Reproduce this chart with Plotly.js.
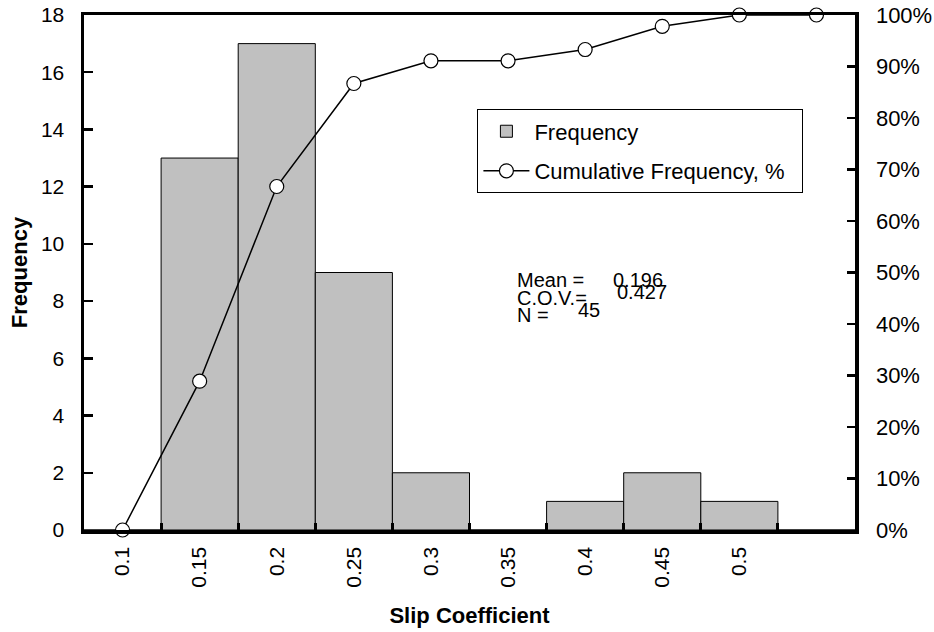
<!DOCTYPE html>
<html>
<head>
<meta charset="utf-8">
<script src="https://cdn.plot.ly/plotly-3.0.1.min.js"></script>
<style>html,body{margin:0;padding:0;background:#fff;}#chart{width:934px;height:632px;}</style>
</head>
<body>
<div id="chart"></div>
<script>
// Data
var categories = ["0.1", "0.15", "0.2", "0.25", "0.3", "0.35", "0.4", "0.45", "0.5", "More"];
var tickLabels = ["0.1", "0.15", "0.2", "0.25", "0.3", "0.35", "0.4", "0.45", "0.5", ""];
var frequency = [0, 13, 17, 9, 2, 0, 1, 2, 1, 0];
var cumulativePct = [0, 28.9, 66.7, 86.7, 91.1, 91.1, 93.3, 97.8, 100, 100];
var statLabels = ["Mean =", "C.O.V.=", "N ="];
var statValues = ["0.196", "0.427", "45"];
var yTicks = [0, 2, 4, 6, 8, 10, 12, 14, 16, 18];

var font = "Arial, 'Liberation Sans', Helvetica, sans-serif";
var nb = "\u00A0\u00A0";

var traces = [
  {
    type: "bar", name: "Frequency", x: categories, y: frequency, width: 1,
    marker: {color: "#C0C0C0", line: {color: "#000", width: 1}},
    legendgroup: "a", hoverinfo: "y"
  },
  {
    type: "scatter", mode: "lines+markers", name: "Cumulative Frequency, %" + nb,
    x: categories, y: cumulativePct.map(function (v) { return v / 100; }), yaxis: "y2",
    line: {color: "#000", width: 1.5},
    marker: {symbol: "circle", size: 14, color: "#fff", line: {color: "#000", width: 1.2}},
    cliponaxis: false, legendgroup: "b"
  }
];

var annotations = [];
var labelX = [0.5590, 0.5590, 0.5590];
var labelY = [0.4854, 0.4505, 0.4175];
var valueX = [0.6835, 0.6887, 0.6381];
var valueY = [0.4854, 0.4621, 0.4272];
statLabels.forEach(function (t, i) {
  annotations.push({xref: "paper", yref: "paper", x: labelX[i], y: labelY[i], text: t,
    showarrow: false, xanchor: "left", yanchor: "middle", font: {size: 20, color: "#000"}});
  annotations.push({xref: "paper", yref: "paper", x: valueX[i], y: valueY[i], text: statValues[i],
    showarrow: false, xanchor: "left", yanchor: "middle", font: {size: 20, color: "#000"}});
});

var layout = {
  width: 934, height: 632,
  margin: {l: 84, r: 79, t: 15, b: 102},
  paper_bgcolor: "#fff", plot_bgcolor: "#fff",
  font: {family: font, color: "#000", size: 21},
  showlegend: true,
  bargap: 0,
  xaxis: {
    type: "category", categoryorder: "array", categoryarray: categories,
    range: [-0.5, categories.length - 0.5],
    tickmode: "array", tickvals: categories, ticktext: tickLabels,
    tickson: "boundaries", ticks: "inside", ticklen: 7, tickwidth: 3, tickcolor: "#000",
    tickangle: -90, tickfont: {size: 21},
    showgrid: false, zeroline: false,
    showline: true, linecolor: "#000", linewidth: 3.5, mirror: true,
    ticklabelstandoff: 5,
    title: {text: "<b>Slip Coefficient</b>", font: {size: 22}, standoff: 22}
  },
  yaxis: {
    range: [0, 18], tickmode: "array", tickvals: yTicks,
    ticks: "inside", ticklen: 9, tickwidth: 2.5, tickcolor: "#000",
    showgrid: false, zeroline: false,
    showline: true, linecolor: "#000", linewidth: 3.5,
    tickfont: {size: 21}, ticklabelstandoff: 12,
    title: {text: "<b>Frequency</b>", font: {size: 22}, standoff: 8}
  },
  yaxis2: {
    overlaying: "y", side: "right", range: [0, 1], dtick: 0.1, tick0: 0,
    tickformat: ".0%",
    ticks: "inside", ticklen: 8, tickwidth: 2.5, tickcolor: "#000",
    showgrid: false, zeroline: false,
    showline: true, linecolor: "#000", linewidth: 3.5,
    tickfont: {size: 22}, ticklabelstandoff: 13
  },
  legend: {
    x: 0.51, y: 0.817, xanchor: "left", yanchor: "top",
    bgcolor: "#fff", bordercolor: "#000", borderwidth: 1.2,
    font: {size: 22}, traceorder: "grouped", tracegroupgap: 8, itemwidth: 46
  },
  annotations: annotations
};

Plotly.newPlot("chart", traces, layout, {displayModeBar: false, staticPlot: true});
</script>
</body>
</html>
